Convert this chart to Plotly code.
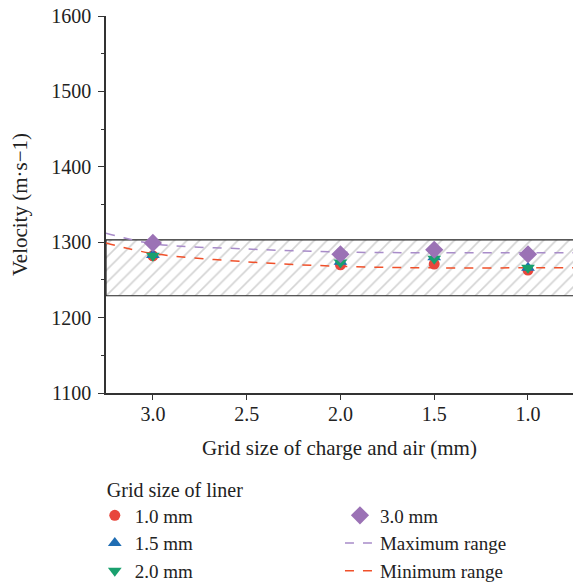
import plotly.graph_objects as go

# ---- data ----
grid_charge = [3.0, 2.0, 1.5, 1.0]
v_liner_10 = [1282, 1270, 1271, 1263]
v_liner_15 = [1283, 1274, 1280, 1266]
v_liner_20 = [1282, 1273, 1278, 1266]
v_liner_30 = [1299, 1284, 1290, 1284]

range_x = [3.25, 3.0, 2.5, 2.0, 1.5, 1.0, 0.75]
max_range = [1312, 1298, 1291, 1287, 1286, 1286, 1286]
min_range = [1299, 1285, 1274, 1268, 1266, 1266, 1266]

band_x = [3.25, 0.75]
band_low = 1229
band_high = 1303

FONT = "Liberation Serif"
RED = "#e8463c"
BLUE = "#1f6db3"
GREEN = "#19a06e"
PURPLE = "#9b72b5"
PURPLE_LINE = "#a88cc9"
RED_LINE = "#f0502a"

fig = go.Figure()

# hatched band
fig.add_trace(go.Scatter(
    x=[band_x[0], band_x[1], band_x[1], band_x[0], band_x[0]],
    y=[band_low, band_low, band_high, band_high, band_low],
    fill="toself", mode="lines",
    line=dict(color="#222222", width=1.2),
    fillcolor="rgba(0,0,0,0)",
    fillpattern=dict(shape="/", fgcolor="#a8a8a8", bgcolor="white", size=9, solidity=0.18),
    showlegend=False, hoverinfo="skip"))

fig.add_trace(go.Scatter(x=range_x, y=max_range, mode="lines", name="Maximum range",
                         line=dict(color=PURPLE_LINE, width=1.5, dash="dash", shape="spline"),
                         legend="legend2", legendrank=2))
fig.add_trace(go.Scatter(x=range_x, y=min_range, mode="lines", name="Minimum range",
                         line=dict(color=RED_LINE, width=1.5, dash="dash", shape="spline"),
                         legend="legend2", legendrank=3))

fig.add_trace(go.Scatter(x=grid_charge, y=v_liner_10, mode="markers", name="1.0 mm",
                         marker=dict(symbol="circle", size=11, color=RED),
                         legend="legend", legendrank=1))
fig.add_trace(go.Scatter(x=grid_charge, y=v_liner_15, mode="markers", name="1.5 mm",
                         marker=dict(symbol="triangle-up", size=12, color=BLUE),
                         legend="legend", legendrank=2))
fig.add_trace(go.Scatter(x=grid_charge, y=v_liner_20, mode="markers", name="2.0 mm",
                         marker=dict(symbol="triangle-down", size=12, color=GREEN),
                         legend="legend", legendrank=3))
fig.add_trace(go.Scatter(x=grid_charge, y=v_liner_30, mode="markers", name="3.0 mm",
                         marker=dict(symbol="diamond", size=14, color=PURPLE),
                         legend="legend2", legendrank=1))

axis_common = dict(showline=True, linecolor="#333333", linewidth=1.5, ticks="outside",
                   tickcolor="#333333", showgrid=False, zeroline=False, automargin=False,
                   ticklabeloverflow="allow",
                   tickfont=dict(family=FONT, size=20, color="#222222"))

fig.update_xaxes(range=[3.25, 0.76], tickvals=[3.0, 2.5, 2.0, 1.5, 1.0],
                 ticktext=["3.0", "2.5", "2.0", "1.5", "1.0"], ticklen=5,
                 ticklabelstandoff=-3,
                 title=dict(text="Grid size of charge and air (mm)",
                            font=dict(family=FONT, size=21, color="#222222"), standoff=17),
                 **axis_common)
fig.update_yaxes(range=[1100, 1600], tickvals=[1100, 1200, 1300, 1400, 1500, 1600], ticklen=6,
                 ticklabelstandoff=3,
                 minor=dict(dtick=50, ticklen=3, ticks="outside", tickcolor="#333333"),
                 title=dict(text="Velocity (m·s−1)",
                            font=dict(family=FONT, size=21, color="#222222"), standoff=18),
                 **axis_common)

leg_common = dict(orientation="v", xanchor="left", yanchor="top",
                  font=dict(family=FONT, size=19, color="#222222"),
                  traceorder="normal", bgcolor="rgba(0,0,0,0)")

fig.update_layout(
    width=573, height=582,
    margin=dict(l=106, r=0, t=16, b=189, autoexpand=False),
    plot_bgcolor="white", paper_bgcolor="white",
    font=dict(family=FONT, size=20, color="#222222"),
    legend=dict(x=-0.024, y=-0.2056,
                title=dict(text="&nbsp;&nbsp;Grid size of liner", side="top",
                           font=dict(family=FONT, size=20)),
                **leg_common),
    legend2=dict(x=0.501, y=-0.2745, **leg_common),
)

fig.write_html("out.html", config={"displayModeBar": False},
               post_script="document.body.style.margin='0';")
